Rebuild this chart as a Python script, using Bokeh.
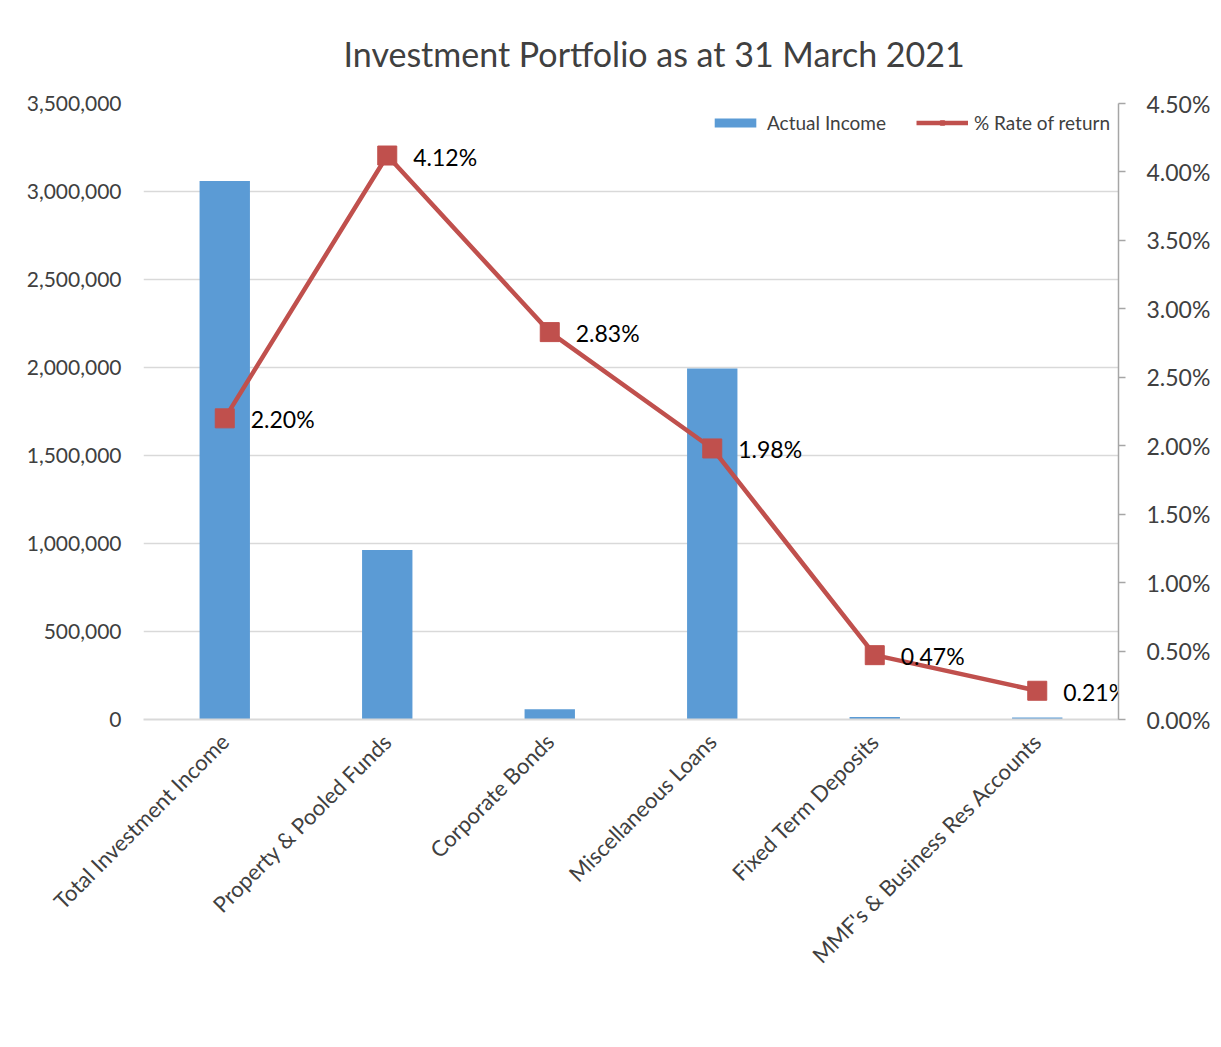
import math
from bokeh.plotting import figure
from bokeh.models import (ColumnDataSource, Range1d, LinearAxis, NumeralTickFormatter,
                          Legend, LegendItem, FactorRange, FixedTicker)
from bokeh.core.properties import value
from bokeh.embed import file_html
from bokeh.resources import INLINE

categories = ["Total Investment Income", "Property & Pooled Funds", "Corporate Bonds",
              "Miscellaneous Loans", "Fixed Term Deposits", "MMF's & Business Res Accounts"]
actual_income = [3060000, 963000, 58000, 1995000, 14000, 11000]
rate_of_return = [0.0220, 0.0412, 0.0283, 0.0198, 0.0047, 0.0021]
rate_labels = [f"{r*100:.2f}%" for r in rate_of_return]
left_ticks = [0, 500000, 1000000, 1500000, 2000000, 2500000, 3000000, 3500000]
right_ticks = [0, 0.005, 0.01, 0.015, 0.02, 0.025, 0.03, 0.035, 0.04, 0.045]

FONT = "Lato"
TXT = "#404040"

src = ColumnDataSource(dict(cat=categories, inc=actual_income, rate=rate_of_return, lab=rate_labels))

p = figure(x_range=FactorRange(*categories), y_range=Range1d(0, 3500000),
           frame_width=975, frame_height=616, output_backend="svg", toolbar_location=None,
           min_border_left=143, min_border_right=10, min_border_top=0, min_border_bottom=0,
           title="Investment Portfolio as at 31 March 2021")
p.extra_y_ranges = {"pct": Range1d(0, 0.045)}

p.title.align = "left"
p.title.offset = 200
p.title.text_font = FONT
p.title.text_font_size = "34px"
p.title.text_font_style = "normal"
p.title.text_color = TXT
p.title.standoff = 60

p.outline_line_color = None
p.background_fill_color = "white"
p.border_fill_color = "white"

p.xgrid.grid_line_color = None
p.ygrid.grid_line_color = "#D9D9D9"
p.ygrid.grid_line_width = 1.5

yax = p.yaxis[0]
yax.formatter = NumeralTickFormatter(format="0,0")
yax.ticker = FixedTicker(ticks=left_ticks)
yax.axis_line_color = None
yax.major_tick_line_color = None
yax.minor_tick_line_color = None
yax.major_label_text_font = FONT
yax.major_label_text_font_size = "21px"
yax.major_label_text_color = TXT
yax.major_label_standoff = 16

rax = LinearAxis(y_range_name="pct", formatter=NumeralTickFormatter(format="0.00%"),
                 ticker=FixedTicker(ticks=right_ticks))
rax.axis_line_color = "#A6A6A6"
rax.axis_line_width = 1.5
rax.major_tick_line_color = "#A6A6A6"
rax.major_tick_line_width = 1.5
rax.major_tick_out = 7
rax.major_tick_in = 0
rax.minor_tick_line_color = None
rax.major_label_text_font = FONT
rax.major_label_text_font_size = "23px"
rax.major_label_text_color = TXT
rax.major_label_standoff = 21
p.add_layout(rax, "right")

xax = p.xaxis[0]
xax.axis_line_color = "#D9D9D9"
xax.axis_line_width = 2
xax.major_tick_line_color = None
xax.major_tick_out = 0
xax.major_tick_in = 0
xax.minor_tick_line_color = None
xax.major_label_orientation = math.pi / 4
xax.major_label_text_font = FONT
xax.major_label_text_font_size = "22px"
xax.major_label_text_color = TXT
xax.major_label_standoff = 18
xax.axis_label = None

bars = p.vbar(x="cat", top="inc", width=0.31, source=src, fill_color="#5B9BD5", line_color=None)
line = p.line(x="cat", y="rate", source=src, y_range_name="pct", line_color="#C0504D", line_width=4.5)
marks = p.scatter(x="cat", y="rate", source=src, y_range_name="pct", marker="square", size=19,
                  fill_color="#C0504D", line_color="#C0504D")
p.text(x="cat", y="rate", text="lab", source=src, y_range_name="pct", x_offset=26, y_offset=1,
       text_align="left", text_baseline="middle", text_font=value(FONT), text_font_size="23px",
       text_color="black")

legend = Legend(items=[LegendItem(label="Actual Income", renderers=[bars]),
                       LegendItem(label="% Rate of return", renderers=[line, marks])],
                orientation="horizontal", location="top_right", border_line_color=None,
                label_text_font=FONT, label_text_font_size="19px", label_text_color=TXT,
                glyph_width=52, glyph_height=11, spacing=30, margin=8, padding=4,
                label_standoff=6, background_fill_color="white", background_fill_alpha=1)
p.add_layout(legend, "center")

open("out.html", "w").write(file_html(p, INLINE))
